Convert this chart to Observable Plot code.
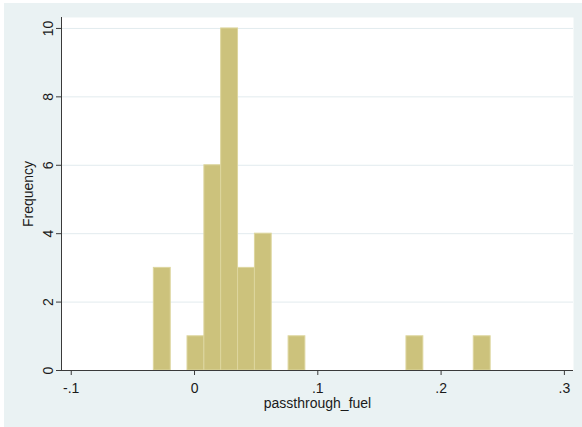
<!DOCTYPE html>
<html>
<head>
<meta charset="utf-8">
<script src="https://cdn.jsdelivr.net/npm/d3@7"></script>
<script src="https://cdn.jsdelivr.net/npm/@observablehq/plot@0.6"></script>
<style>
  html, body { margin: 0; padding: 0; background: #ffffff; }
  #wrap { position: relative; width: 582px; height: 427px; }
  #bg { position: absolute; left: 4px; top: 3px; right: 0; bottom: 0; background: #eaf2f3; }
  #wrap svg { position: absolute; left: 0; top: 0; }
</style>
</head>
<body>
<div id="wrap"><div id="bg"></div></div>
<script>
// Histogram bins of passthrough_fuel (lower edge, upper edge, frequency)
const binLo  = [-0.0330, -0.0057, 0.0080, 0.0216, 0.0353, 0.0490, 0.0763, 0.1719, 0.2265];
const binHi  = [-0.0193,  0.0080, 0.0216, 0.0353, 0.0490, 0.0626, 0.0899, 0.1856, 0.2402];
const counts = [3, 1, 6, 10, 3, 4, 1, 1, 1];

// Axis ticks and their labels
const xTicks = [-0.1, 0, 0.1, 0.2, 0.3];
const xTickLabels = ["-.1", "0", ".1", ".2", ".3"];
const yTicks = [0, 2, 4, 6, 8, 10];

const xDomain = [-0.1079, 0.3074];
const yDomain = [0, 10.32];

const bins = binLo.map((lo, i) => ({lo, hi: binHi[i], n: counts[i]}));

const chart = Plot.plot({
  width: 582,
  height: 427,
  marginLeft: 61,
  marginRight: 9,
  marginTop: 17,
  marginBottom: 57,
  x: {domain: xDomain},
  y: {domain: yDomain},
  style: {
    fontFamily: "'Liberation Sans', Arial, sans-serif",
    fontSize: "14px",
    color: "#1a1a1a",
    background: "transparent",
    overflow: "visible"
  },
  marks: [
    Plot.frame({fill: "#ffffff", stroke: null}),
    Plot.gridY(yTicks.filter(d => d > 0), {stroke: "#e2ebee", strokeOpacity: 1, strokeWidth: 1}),
    Plot.rectY(bins, {x1: "lo", x2: "hi", y: "n", fill: "#ccc27c", stroke: "#ddd69e", strokeWidth: 1}),
    Plot.ruleY([0], {stroke: "#3a3a3a", strokeWidth: 1}),
    Plot.ruleX([xDomain[0]], {stroke: "#3a3a3a", strokeWidth: 1}),
    Plot.axisX(xTicks, {
      tickSize: 5,
      tickPadding: 8,
      tickFormat: (d, i) => xTickLabels[i],
      label: null,
      stroke: "#3a3a3a"
    }),
    // y ticks; their labels are drawn upright-rotated below
    Plot.axisY(yTicks, {tickSize: 5, text: null, label: null, stroke: "#3a3a3a"}),
    Plot.text(yTicks, {
      y: d => d,
      text: d => String(d),
      frameAnchor: "left",
      rotate: -90,
      textAnchor: "middle",
      lineAnchor: "bottom",
      dx: -9,
      fontSize: 14
    }),
    Plot.text(["passthrough_fuel"], {frameAnchor: "bottom", lineAnchor: "top", dy: 28, fontSize: 14}),
    Plot.text(["Frequency"], {frameAnchor: "left", rotate: -90, textAnchor: "middle", lineAnchor: "middle", dx: -33, fontSize: 14})
  ]
});

document.getElementById("wrap").appendChild(chart);
</script>
</body>
</html>
